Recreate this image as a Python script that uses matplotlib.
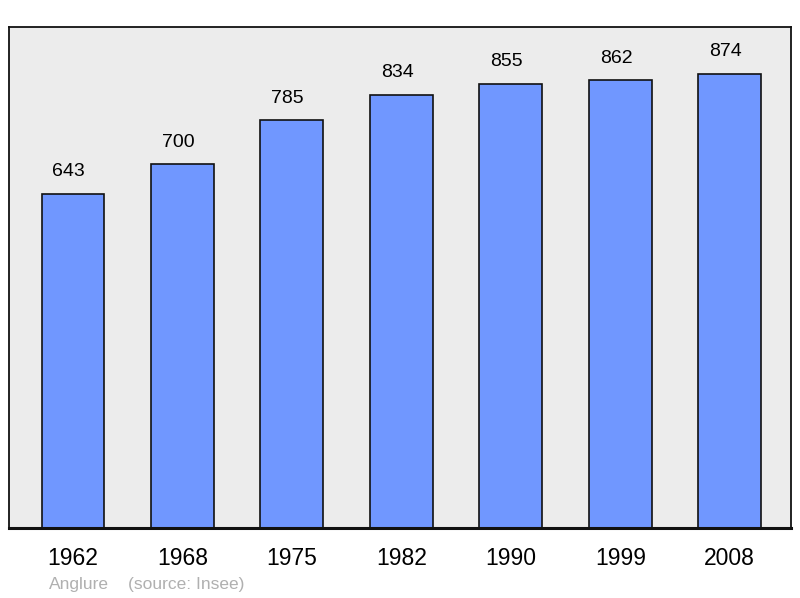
import matplotlib.pyplot as plt

years = ['1962', '1968', '1975', '1982', '1990', '1999', '2008']
population = [643, 700, 785, 834, 855, 862, 874]
commune = 'Anglure'
source = '(source: Insee)'


def main():
    plt.rcParams['font.family'] = ['Liberation Sans', 'DejaVu Sans']
    fig = plt.figure(figsize=(8, 5.98), dpi=100)
    ax = fig.add_axes([9 / 800, 70 / 598, 782 / 800, 501 / 598])
    ax.set_facecolor('#ececec')

    x = range(len(years))
    bars = ax.bar(x, population, width=0.575, color='#7097ff',
                  edgecolor='#111111', linewidth=1.2)
    # value labels sit a bit left of the bar centre in the original
    for b, v in zip(bars, population):
        ax.annotate(str(v), (b.get_x() + b.get_width() / 2, v),
                    xytext=(-3, 16), textcoords='offset points',
                    ha='center', va='center', fontsize=14)

    ax.set_xlim(-0.585, 6.56)
    ax.set_ylim(0, 964.5)
    ax.set_xticks(list(x))
    ax.set_xticklabels(years, fontsize=16.5)
    ax.tick_params(axis='x', length=0, pad=14)
    ax.set_yticks([])
    for side in ['left', 'top', 'right']:
        ax.spines[side].set_linewidth(1.3)
        ax.spines[side].set_color('#111111')
    ax.spines['bottom'].set_linewidth(2.2)
    ax.spines['bottom'].set_color('#111111')

    fig.text(49 / 800, 1 - 585 / 598, commune, fontsize=12.5, color='#b0b0b0',
             va='center', ha='left')
    fig.text(128 / 800, 1 - 585 / 598, source, fontsize=12.5, color='#b0b0b0',
             va='center', ha='left')

    fig.savefig('out.png', dpi=100)


if __name__ == "__main__":
    main()
